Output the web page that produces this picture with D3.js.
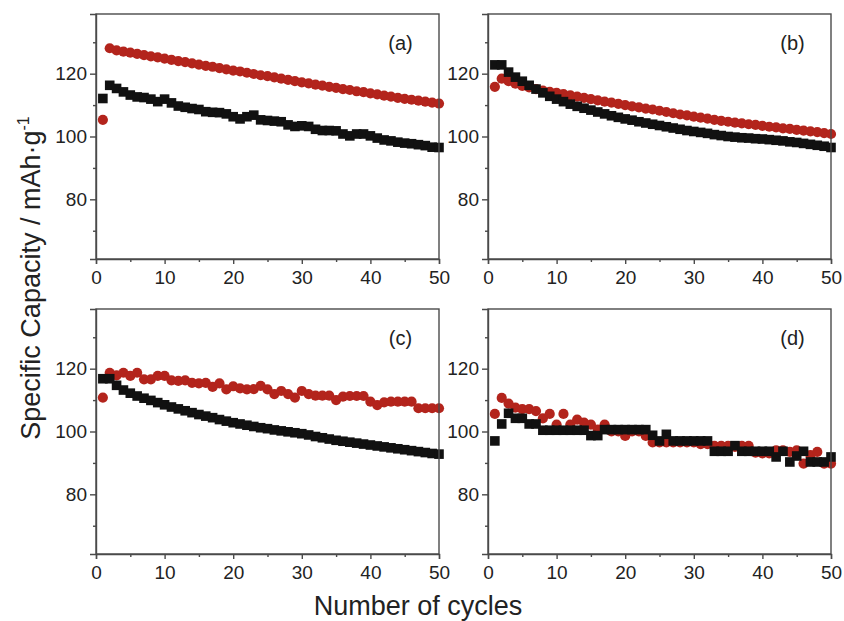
<!DOCTYPE html>
<html>
<head>
<script src="https://d3js.org/d3.v7.min.js"></script>
<style>
    body { margin: 0; background: #fff; font-family: 'Liberation Sans', Arial, sans-serif; }
    svg { display: block; }
</style>
</head>
<body>
<div id="chart"></div>
<script>
// cycle numbers shared by every panel
const cycles = d3.range(1, 51);

// values (mAh/g); red circles and black squares
const aRed = [105.3, 128.1, 127.4, 127.0, 126.7, 126.3, 125.9, 125.5, 125.2, 124.8,
    124.4, 124.0, 123.7, 123.3, 122.9, 122.5, 122.2, 121.8, 121.4, 121.0,
    120.7, 120.3, 119.9, 119.5, 119.2, 118.8, 118.4, 118.0, 117.6, 117.2,
    116.9, 116.5, 116.2, 115.8, 115.5, 115.1, 114.8, 114.4, 114.1, 113.7,
    113.4, 113.0, 112.7, 112.3, 112.0, 111.7, 111.4, 111.1, 110.8, 110.5];
const aBlack = [112.1, 116.3, 115.3, 114.2, 113.2, 112.6, 112.4, 111.9, 111.1, 111.9,
    110.7, 109.7, 109.3, 108.9, 108.6, 107.9, 107.7, 107.6, 107.2, 106.3,
    105.6, 106.3, 106.8, 105.3, 105.1, 104.9, 104.7, 103.7, 103.2, 103.4,
    103.2, 102.3, 101.9, 101.9, 101.8, 100.8, 100.2, 100.8, 100.8, 100.2,
    99.5, 98.9, 98.6, 98.2, 97.9, 97.7, 97.4, 97.1, 96.6, 96.5];

const bRed = [115.8, 118.4, 117.6, 116.8, 116.1, 115.6, 115.1, 114.6, 114.2, 113.9,
    113.5, 113.1, 112.7, 112.3, 111.9, 111.5, 111.1, 110.8, 110.4, 110.0,
    109.6, 109.3, 108.9, 108.6, 108.2, 107.8, 107.4, 107.0, 106.7, 106.3,
    106.0, 105.7, 105.3, 105.0, 104.7, 104.4, 104.2, 103.9, 103.7, 103.4,
    103.1, 102.9, 102.6, 102.4, 102.1, 101.9, 101.6, 101.4, 101.1, 100.8];
const bBlack = [122.8, 122.8, 120.5, 118.9, 117.6, 116.3, 115.1, 113.9, 112.8, 111.9,
    111.1, 110.3, 109.6, 109.0, 108.4, 107.8, 107.2, 106.6, 106.1, 105.6,
    105.2, 104.7, 104.3, 103.9, 103.5, 103.1, 102.7, 102.3, 101.9, 101.6,
    101.3, 101.0, 100.6, 100.3, 100.0, 99.8, 99.6, 99.5, 99.3, 99.2,
    99.0, 98.8, 98.6, 98.3, 98.1, 97.8, 97.5, 97.2, 96.9, 96.5];

const cRed = [110.8, 118.7, 117.9, 118.7, 117.7, 118.7, 116.6, 116.6, 117.7, 117.7,
    116.3, 116.1, 116.3, 115.5, 115.3, 115.5, 114.2, 115.3, 113.4, 114.4,
    113.7, 113.4, 113.5, 114.5, 113.4, 111.9, 112.9, 111.9, 110.8, 112.9,
    111.9, 111.4, 111.4, 111.4, 110.0, 111.1, 111.3, 111.3, 111.3, 109.5,
    108.4, 109.3, 109.5, 109.5, 109.5, 109.5, 107.4, 107.4, 107.4, 107.4];
const cBlack = [116.8, 116.8, 114.7, 113.2, 112.2, 111.3, 110.6, 109.9, 109.2, 108.5,
    107.8, 107.2, 106.6, 106.0, 105.4, 104.9, 104.4, 103.8, 103.3, 102.8,
    102.4, 102.0, 101.6, 101.2, 100.9, 100.5, 100.2, 99.9, 99.6, 99.3,
    98.9, 98.4, 98.0, 97.6, 97.2, 96.9, 96.6, 96.3, 96.0, 95.7,
    95.4, 95.1, 94.8, 94.5, 94.2, 93.9, 93.6, 93.3, 93.0, 92.8];

const dRed = [105.6, 110.7, 108.9, 107.6, 107.1, 107.1, 106.5, 104.2, 105.6, 102.2,
    105.6, 102.2, 103.8, 102.8, 102.2, 100.6, 102.2, 100.0, 100.0, 98.6,
    100.0, 100.0, 98.6, 96.5, 96.5, 96.5, 96.5, 96.5, 96.5, 96.5,
    96.0, 96.0, 95.4, 95.4, 95.4, 95.1, 95.4, 95.4, 93.3, 93.0,
    93.0, 94.0, 94.0, 93.5, 94.0, 89.8, 92.5, 93.5, 89.8, 89.8];
const dBlack = [97.0, 102.4, 105.8, 104.2, 104.2, 102.4, 102.4, 100.4, 100.4, 100.4,
    100.4, 100.4, 100.4, 100.4, 98.7, 98.7, 100.6, 100.6, 100.6, 100.6,
    100.6, 100.6, 100.6, 98.8, 97.0, 99.1, 97.0, 97.0, 97.0, 97.0,
    97.0, 97.0, 93.7, 93.7, 93.7, 95.5, 93.7, 93.7, 93.7, 93.7,
    93.7, 91.9, 93.7, 90.3, 92.2, 93.7, 90.3, 90.3, 90.3, 91.9];

const panelLabels = ["(a)", "(b)", "(c)", "(d)"];
const xTicks = [0, 10, 20, 30, 40, 50];
const xMinor = [5, 15, 25, 35, 45];
const yTicks = [80, 100, 120];
const yMinor = [70, 90, 110, 130];

const red = "#b3241c";
const black = "#111";
const axisColor = "#4a4a4a";

const width = 844, height = 621;
const svg = d3.select("#chart").append("svg")
    .attr("width", width)
    .attr("height", height);

// panel frames (left, top) — every panel is the same size
const pw = 343, ph = 245;
const panels = [
    { x: 96, y: 14, red: aRed, black: aBlack },
    { x: 488, y: 14, red: bRed, black: bBlack },
    { x: 96, y: 309, red: cRed, black: cBlack },
    { x: 488, y: 309, red: dRed, black: dBlack }
];

const xScale = d3.scaleLinear().domain([0, 50]).range([0, pw]);
const yScale = d3.scaleLinear().domain([61, 139]).range([ph, 0]);

panels.forEach((p, i) => {
    const g = svg.append("g").attr("transform", `translate(${p.x},${p.y})`);

    // markers first, frame on top
    g.append("g")
        .selectAll("circle")
        .data(cycles)
        .join("circle")
        .attr("cx", d => xScale(d))
        .attr("cy", (d, k) => yScale(p.red[k]))
        .attr("r", 5.1)
        .attr("fill", red);

    const s = 9.6;
    g.append("g")
        .selectAll("rect")
        .data(cycles)
        .join("rect")
        .attr("x", d => xScale(d) - s / 2)
        .attr("y", (d, k) => yScale(p.black[k]) - s / 2)
        .attr("width", s)
        .attr("height", s)
        .attr("fill", black);

    // bottom axis
    const xAxis = g.append("g")
        .attr("transform", `translate(0,${ph})`)
        .call(d3.axisBottom(xScale).tickValues(xTicks).tickSize(5).tickPadding(7).tickFormat(d3.format("d")));
    g.append("g")
        .attr("transform", `translate(0,${ph})`)
        .call(d3.axisBottom(xScale).tickValues(xMinor).tickSize(3).tickFormat(""))
        .select(".domain").remove();

    // left axis
    const yAxis = g.append("g")
        .call(d3.axisLeft(yScale).tickValues(yTicks).tickSize(6).tickPadding(3));
    g.append("g")
        .call(d3.axisLeft(yScale).tickValues(yMinor).tickSize(3).tickFormat(""))
        .select(".domain").remove();

    [xAxis, yAxis].forEach(a => {
        a.selectAll(".tick text")
            .attr("font-size", 19)
            .attr("font-family", "'Liberation Sans', Arial, sans-serif")
            .attr("fill", "#222");
    });
    g.selectAll(".domain, .tick line")
        .attr("stroke", axisColor)
        .attr("stroke-width", 1.4);

    // frame: top and right edges
    g.append("rect")
        .attr("width", pw)
        .attr("height", ph)
        .attr("fill", "none")
        .attr("stroke", axisColor)
        .attr("stroke-width", 1.4);

    g.append("text")
        .attr("x", 304.5)
        .attr("y", 36)
        .attr("text-anchor", "middle")
        .attr("font-size", 20)
        .attr("fill", "#222")
        .text(panelLabels[i]);
});

// axis titles
svg.append("text")
    .attr("x", 418)
    .attr("y", 615)
    .attr("text-anchor", "middle")
    .attr("font-size", 27)
    .attr("fill", "#222")
    .text("Number of cycles");

const yTitle = svg.append("text")
    .attr("transform", "translate(40,278) rotate(-90)")
    .attr("text-anchor", "middle")
    .attr("font-size", 27)
    .attr("fill", "#222");
yTitle.append("tspan").text("Specific Capacity / mAh·g");
yTitle.append("tspan")
    .attr("font-size", 16)
    .attr("dy", -11)
    .text("-1");
</script>
</body>
</html>
